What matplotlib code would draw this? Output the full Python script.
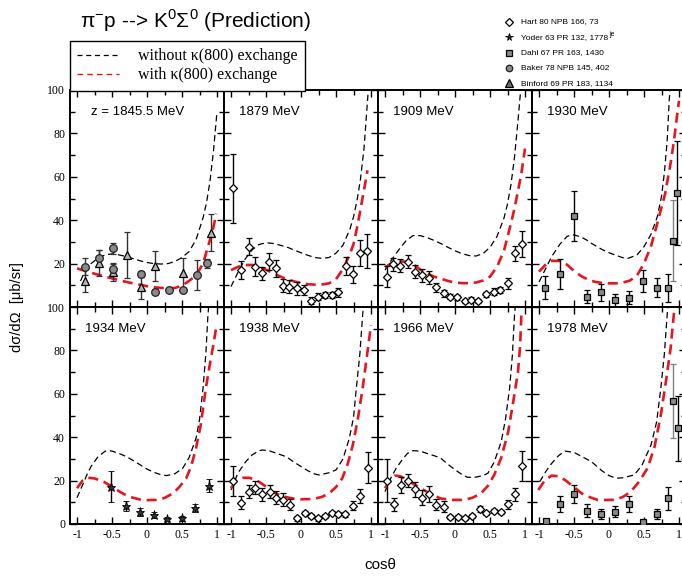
import matplotlib
matplotlib.use('Agg')
import matplotlib.pyplot as plt
from matplotlib.lines import Line2D
from matplotlib.ticker import MultipleLocator

plt.rcParams['font.family'] = ['Liberation Sans', 'DejaVu Sans']
plt.rcParams['axes.unicode_minus'] = False
plt.rcParams['mathtext.fontset'] = 'custom'
plt.rcParams['mathtext.rm'] = 'Liberation Sans'

SERIF = 'Liberation Serif'

# ---- energies shown in the panels ----
panel_labels = ['z = 1845.5 MeV', '1879 MeV', '1909 MeV', '1930 MeV',
                '1934 MeV', '1938 MeV', '1966 MeV', '1978 MeV']

# ---- model curves: without / with kappa(800) exchange ----
wo_c_1845 = [-0.95, -0.9, -0.8, -0.7, -0.6, -0.5, -0.4, -0.3, -0.2, -0.1, 0.0, 0.1, 0.2, 0.3, 0.4, 0.5, 0.6, 0.7, 0.8, 0.85, 0.9, 0.95, 1.0]
wo_v_1845 = [12, 15.5, 20, 22.5, 24, 24.5, 24, 23.3, 22.3, 21.3, 20.5, 20, 19.8, 20, 21, 22.8, 25.5, 31, 41, 48, 58, 72, 90]
w_c_1845 = [-1.0, -0.9, -0.8, -0.7, -0.6, -0.5, -0.4, -0.3, -0.2, -0.1, 0.0, 0.1, 0.2, 0.3, 0.4, 0.5, 0.6, 0.7, 0.8, 0.9, 0.95, 0.99]
w_v_1845 = [17.8, 16.8, 15.8, 14.9, 14.0, 13.2, 12.4, 11.6, 10.9, 10.2, 9.6, 9.1, 8.8, 8.6, 8.8, 9.8, 12, 14.5, 20, 31, 37, 43]

wo_c_1879 = [-1.0, -0.9, -0.8, -0.7, -0.6, -0.5, -0.4, -0.3, -0.2, -0.1, 0.0, 0.1, 0.2, 0.3, 0.4, 0.5, 0.6, 0.7, 0.75, 0.8, 0.85, 0.9, 0.95, 0.97]
wo_v_1879 = [9.4, 16, 22, 26.3, 28.8, 29.6, 29.3, 28.5, 27.6, 26.3, 25, 23.8, 22.8, 22.4, 22.8, 24.8, 28.5, 36, 41.5, 49, 59, 73, 95, 104]
w_c_1879 = [-1.0, -0.9, -0.8, -0.7, -0.6, -0.5, -0.4, -0.3, -0.2, -0.1, 0.0, 0.1, 0.2, 0.3, 0.4, 0.5, 0.6, 0.7, 0.75, 0.8, 0.85, 0.9, 0.95]
w_v_1879 = [17, 18.5, 19.3, 19.4, 18.6, 17.2, 15.6, 14.1, 12.8, 11.8, 11.0, 10.5, 10.3, 10.4, 10.9, 12.8, 17.5, 24.5, 29, 36.5, 45, 54, 63]

wo_c_1909 = [-1.0, -0.9, -0.8, -0.7, -0.6, -0.5, -0.4, -0.3, -0.2, -0.1, 0.0, 0.1, 0.2, 0.3, 0.4, 0.5, 0.6, 0.7, 0.75, 0.8, 0.85, 0.9, 0.93, 0.95]
wo_v_1909 = [17, 22, 26.5, 30.5, 32.9, 32.9, 32, 30.7, 29.2, 27.5, 25.9, 24.6, 23.7, 23.5, 24.6, 27.5, 32.5, 41, 47.5, 56.5, 69, 86, 97, 104]
w_c_1909 = [-1.0, -0.9, -0.8, -0.7, -0.6, -0.5, -0.4, -0.3, -0.2, -0.1, 0.0, 0.1, 0.2, 0.3, 0.4, 0.5, 0.6, 0.7, 0.8, 0.85, 0.9, 0.95, 1.0]
w_v_1909 = [18.3, 20.3, 21, 20.9, 19.8, 17.3, 15.5, 14, 13, 12, 11.3, 11, 11, 11.3, 12.2, 14, 18.5, 26, 38.6, 45.5, 53.5, 62, 73]

wo_c_1930 = [-1.0, -0.9, -0.82, -0.7, -0.6, -0.54, -0.5, -0.4, -0.3, -0.25, -0.1, 0.0, 0.1, 0.2, 0.27, 0.4, 0.5, 0.6, 0.69, 0.75, 0.79, 0.83, 0.86, 0.88]
wo_v_1930 = [11.5, 18, 23.2, 29, 32.5, 33.2, 33.2, 32.3, 30.5, 29.3, 26.5, 25, 23.8, 22.7, 22.4, 24, 27.8, 33.5, 41.6, 51, 61.6, 76, 95, 104]
w_c_1930 = [-1.0, -0.9, -0.82, -0.7, -0.6, -0.5, -0.4, -0.3, -0.2, -0.1, 0.0, 0.1, 0.2, 0.3, 0.4, 0.5, 0.6, 0.69, 0.8, 0.88, 0.93, 0.97, 1.0]
w_v_1930 = [16.3, 19.7, 21.3, 21.2, 19.5, 16.6, 14.3, 12.6, 11.6, 11.1, 10.9, 10.9, 11.3, 12.2, 14.5, 20.1, 28, 38.6, 52, 66.2, 77, 87.7, 95]

wo_c_1934 = [-1.0, -0.9, -0.86, -0.8, -0.7, -0.6, -0.55, -0.5, -0.4, -0.29, -0.2, -0.1, 0.0, 0.1, 0.2, 0.28, 0.4, 0.51, 0.6, 0.7, 0.75, 0.8, 0.84, 0.87, 0.89]
wo_v_1934 = [12.1, 19.5, 22.6, 26.5, 31, 33.5, 33.8, 33.6, 32.5, 31, 29.3, 27.3, 25.3, 23.8, 22.7, 22.3, 23.2, 25.7, 30.5, 39.5, 48, 62.5, 78, 96, 104]
w_c_1934 = [-1.0, -0.92, -0.84, -0.75, -0.62, -0.5, -0.39, -0.3, -0.2, -0.1, 0.0, 0.13, 0.25, 0.37, 0.46, 0.56, 0.63, 0.7, 0.77, 0.84, 0.9, 0.95, 0.99]
w_v_1934 = [16.5, 20, 21.3, 21, 19.5, 17.2, 14.9, 13.3, 12.1, 11.3, 11.0, 11.1, 12.0, 14.1, 17, 21.1, 26.5, 34.9, 46, 62.5, 74, 83, 90.9]

wo_c_1938 = [-1.0, -0.9, -0.79, -0.7, -0.6, -0.55, -0.45, -0.35, -0.21, -0.1, 0.0, 0.1, 0.2, 0.26, 0.4, 0.5, 0.6, 0.69, 0.75, 0.79, 0.84, 0.88, 0.9]
wo_v_1938 = [15.7, 23.5, 28.7, 31.8, 33.8, 34.1, 33.7, 32.6, 31, 28.5, 26.5, 24.5, 23, 22.6, 23.6, 24.9, 30, 39.5, 49, 62.5, 78, 96, 104]
w_c_1938 = [-1.0, -0.92, -0.83, -0.74, -0.64, -0.52, -0.41, -0.3, -0.2, -0.12, 0.0, 0.17, 0.3, 0.4, 0.5, 0.59, 0.67, 0.74, 0.81, 0.88, 0.94, 1.0]
w_v_1938 = [16.5, 20, 21.3, 21.3, 20.3, 17.7, 14.9, 13.2, 12.3, 11.8, 11.4, 11.5, 12.5, 14.1, 17, 21.1, 28, 36.4, 48, 62.5, 77, 91.7]

wo_c_1966 = [-1.0, -0.92, -0.84, -0.75, -0.68, -0.6, -0.5, -0.4, -0.3, -0.21, -0.1, 0.0, 0.1, 0.18, 0.3, 0.4, 0.47, 0.56, 0.66, 0.72, 0.78, 0.82, 0.85, 0.87]
wo_v_1966 = [14.9, 21, 25.7, 29.8, 32.5, 33.8, 33.6, 32.5, 31.5, 30.5, 27.5, 25, 22.8, 21.5, 21.6, 22.3, 23.4, 28.5, 37.9, 48, 62.5, 78, 96, 104]
w_c_1966 = [-1.0, -0.93, -0.86, -0.78, -0.69, -0.57, -0.45, -0.33, -0.21, -0.05, 0.13, 0.25, 0.37, 0.47, 0.56, 0.66, 0.76, 0.83, 0.9, 0.93, 0.95]
w_v_1966 = [16.5, 20.3, 22.3, 22, 20.3, 18, 15.7, 13.6, 11.8, 11.1, 11.1, 12.1, 14.1, 17.6, 22.6, 30.5, 42.5, 56, 70.2, 82, 97.8]

wo_c_1978 = [-0.99, -0.9, -0.82, -0.72, -0.63, -0.5, -0.4, -0.25, -0.1, 0.0, 0.1, 0.2, 0.36, 0.47, 0.6, 0.68, 0.74, 0.79, 0.83, 0.85]
wo_v_1978 = [19.5, 24.3, 27.9, 31.5, 33.6, 33, 31.3, 28.7, 24.5, 22.3, 21.1, 21.3, 22.6, 27, 36.4, 47, 62.5, 78, 96, 104]
w_c_1978 = [-1.01, -0.92, -0.82, -0.72, -0.63, -0.5, -0.39, -0.27, -0.16, 0.08, 0.2, 0.31, 0.43, 0.55, 0.65, 0.74, 0.81, 0.88, 0.93]
w_v_1978 = [15.7, 20, 22.3, 22, 20.3, 17, 14.1, 12.3, 11.1, 11.1, 12.5, 14.9, 19.5, 25.7, 35.5, 50.2, 65, 81, 98]

# ---- measured cross sections (cos theta, dsigma/dOmega, error) ----
baker_c_1845 = [-0.89, -0.68, -0.49, -0.49, -0.09, 0.12, 0.32, 0.51, 0.71, 0.85]
baker_v_1845 = [18.6, 22.7, 27.0, 17.4, 15.2, 7.1, 7.8, 7.8, 14.7, 20.1]
baker_e_1845 = [4.0, 3.6, 2.4, 3.0, 1.5, 1.0, 1.0, 1.0, 7.0, 2.0]

binford_c_1845 = [-0.89, -0.68, -0.49, -0.29, -0.09, 0.12, 0.51, 0.91]
binford_v_1845 = [12.1, 20.1, 16.0, 24.0, 9.4, 18.9, 15.5, 34.2]
binford_e_1845 = [5.3, 6.0, 4.0, 10.6, 5.9, 6.7, 7.3, 8.5]

hart_c_1879 = [-0.97, -0.86, -0.75, -0.66, -0.56, -0.46, -0.36, -0.26, -0.17, -0.06, 0.04, 0.14, 0.24, 0.34, 0.44, 0.53, 0.64, 0.74, 0.84, 0.94]
hart_v_1879 = [54.7, 17.0, 27.8, 18.6, 15.5, 20.9, 17.8, 9.8, 9.4, 8.6, 7.8, 2.9, 4.8, 5.5, 5.5, 6.8, 18.9, 15.0, 25.0, 25.8]
hart_e_1879 = [16.0, 4.0, 4.0, 4.5, 3.0, 4.0, 4.0, 3.0, 3.0, 3.0, 2.5, 1.5, 1.5, 1.5, 1.5, 2.0, 4.0, 4.0, 6.0, 8.0]

hart_c_1909 = [-0.97, -0.88, -0.78, -0.67, -0.57, -0.47, -0.37, -0.27, -0.16, -0.07, 0.03, 0.14, 0.23, 0.33, 0.44, 0.55, 0.64, 0.75, 0.85, 0.95]
hart_v_1909 = [14.0, 19.8, 19.0, 20.9, 16.3, 14.7, 13.5, 9.1, 6.3, 4.8, 4.4, 2.9, 3.4, 2.7, 5.8, 7.1, 7.8, 10.9, 24.7, 28.9]
hart_e_1909 = [5.0, 3.0, 3.0, 3.0, 3.0, 3.0, 3.0, 2.0, 1.5, 1.2, 1.2, 1.0, 1.0, 1.0, 1.2, 1.5, 1.5, 2.5, 3.5, 6.0]

dahl_c_1930 = [-0.91, -0.70, -0.50, -0.31, -0.11, 0.09, 0.29, 0.49, 0.68, 0.84, 0.97]
dahl_v_1930 = [8.9, 15.2, 41.9, 4.8, 6.8, 3.2, 4.3, 12.1, 8.9, 8.9, 52.4]
dahl_e_1930 = [5.2, 7.0, 11.5, 3.0, 4.0, 3.0, 3.0, 5.0, 4.5, 6.5, 24.0]
dahl_fwd_c_1930 = [0.91]
dahl_fwd_v_1930 = [30.6]
dahl_fwd_e_1930 = [18.8]

yoder_c_1934 = [-0.51, -0.30, -0.10, 0.10, 0.29, 0.50, 0.69, 0.89]
yoder_v_1934 = [17.2, 8.3, 5.4, 4.1, 2.3, 2.6, 7.2, 17.6]
yoder_e_1934 = [7.2, 2.5, 1.8, 1.2, 1.0, 1.0, 1.8, 3.0]

hart_c_1938 = [-0.97, -0.86, -0.75, -0.66, -0.56, -0.45, -0.36, -0.26, -0.16, -0.06, 0.05, 0.14, 0.24, 0.34, 0.44, 0.53, 0.63, 0.74, 0.84, 0.95]
hart_v_1938 = [19.8, 9.8, 14.9, 16.7, 13.7, 14.9, 12.1, 11.1, 8.8, 2.6, 5.2, 3.7, 2.6, 3.8, 5.2, 4.6, 4.4, 8.4, 12.9, 26.0]
hart_e_1938 = [7.0, 3.0, 3.0, 3.0, 3.0, 3.0, 3.0, 3.0, 2.5, 1.0, 1.0, 1.0, 1.0, 1.0, 1.0, 1.0, 1.0, 2.0, 3.0, 7.0]

hart_c_1966 = [-0.97, -0.87, -0.77, -0.67, -0.57, -0.47, -0.37, -0.27, -0.16, -0.07, 0.04, 0.14, 0.24, 0.35, 0.44, 0.55, 0.65, 0.76, 0.85, 0.96]
hart_v_1966 = [20.0, 9.2, 18.0, 20.0, 16.0, 12.1, 13.8, 8.8, 8.0, 3.1, 3.1, 2.9, 3.8, 6.8, 5.2, 6.0, 5.5, 9.1, 13.8, 26.7]
hart_e_1966 = [10.0, 3.0, 3.5, 3.0, 3.5, 3.5, 3.5, 2.5, 2.5, 1.0, 1.0, 1.0, 1.0, 1.5, 1.0, 1.0, 1.0, 2.0, 3.0, 7.0]

dahl_c_1978 = [-0.90, -0.70, -0.50, -0.31, -0.11, 0.09, 0.29, 0.49, 0.68, 0.84, 0.98]
dahl_v_1978 = [1.4, 9.2, 13.8, 6.0, 4.6, 5.7, 9.2, 0.8, 4.6, 11.8, 44.1]
dahl_e_1978 = [1.0, 3.5, 4.0, 3.0, 2.5, 2.5, 3.5, 0.5, 2.5, 5.4, 15.0]
dahl_fwd_c_1978 = [0.92]
dahl_fwd_v_1978 = [56.8]
dahl_fwd_e_1978 = [17.0]

# marker styles of the five experiments
STYLE = {
    'hart':    dict(marker='D', ms=4.5, mfc='white', mec='black', mew=0.9),
    'yoder':   dict(marker='*', ms=6.5, mfc='#333333', mec='black', mew=0.6),
    'dahl':    dict(marker='s', ms=5, mfc='#8a8a8a', mec='black', mew=0.9),
    'baker':   dict(marker='o', ms=5.5, mfc='#8a8a8a', mec='#222222', mew=0.9),
    'binford': dict(marker='^', ms=6, mfc='#b4b4b4', mec='black', mew=0.9),
}

curves = [
    (wo_c_1845, wo_v_1845, w_c_1845, w_v_1845),
    (wo_c_1879, wo_v_1879, w_c_1879, w_v_1879),
    (wo_c_1909, wo_v_1909, w_c_1909, w_v_1909),
    (wo_c_1930, wo_v_1930, w_c_1930, w_v_1930),
    (wo_c_1934, wo_v_1934, w_c_1934, w_v_1934),
    (wo_c_1938, wo_v_1938, w_c_1938, w_v_1938),
    (wo_c_1966, wo_v_1966, w_c_1966, w_v_1966),
    (wo_c_1978, wo_v_1978, w_c_1978, w_v_1978),
]

points = [
    [('binford', binford_c_1845, binford_v_1845, binford_e_1845, '#333333'),
     ('baker', baker_c_1845, baker_v_1845, baker_e_1845, '#333333')],
    [('hart', hart_c_1879, hart_v_1879, hart_e_1879, 'black')],
    [('hart', hart_c_1909, hart_v_1909, hart_e_1909, 'black')],
    [('dahl', dahl_fwd_c_1930, dahl_fwd_v_1930, dahl_fwd_e_1930, '#808080'),
     ('dahl', dahl_c_1930, dahl_v_1930, dahl_e_1930, 'black')],
    [('yoder', yoder_c_1934, yoder_v_1934, yoder_e_1934, 'black')],
    [('hart', hart_c_1938, hart_v_1938, hart_e_1938, 'black')],
    [('hart', hart_c_1966, hart_v_1966, hart_e_1966, 'black')],
    [('dahl', dahl_fwd_c_1978, dahl_fwd_v_1978, dahl_fwd_e_1978, '#808080'),
     ('dahl', dahl_c_1978, dahl_v_1978, dahl_e_1978, 'black')],
]

W, H = 682, 576
fig = plt.figure(figsize=(W / 100, H / 100), dpi=100)

# panel geometry in pixels
x_left, panel_w = 70, 154
row_bottom = [307, 524]
panel_h = 217

for i in range(8):
    row, col = divmod(i, 4)
    ax = fig.add_axes([(x_left + col * panel_w) / W, (H - row_bottom[row]) / H,
                       panel_w / W, panel_h / H])
    wo_c, wo_v, w_c, w_v = curves[i]
    ax.plot(wo_c, wo_v, color='black', lw=0.9, dashes=(5, 3))
    ax.plot(w_c, w_v, color='#e8141e', lw=1.9, dashes=(3.8, 2.2))
    for name, c, v, e, ecol in points[i]:
        ax.errorbar(c, v, yerr=e, ls='none', ecolor=ecol, elinewidth=1.0,
                    capsize=2.5, capthick=1.0, zorder=3, **STYLE[name])

    ax.set_xlim(-1.1, 1.1)
    ax.set_ylim(0, 100)
    ax.xaxis.set_major_locator(MultipleLocator(0.5))
    ax.xaxis.set_minor_locator(MultipleLocator(0.25))
    ax.yaxis.set_major_locator(MultipleLocator(20))
    ax.yaxis.set_minor_locator(MultipleLocator(10))
    ax.tick_params(which='both', direction='in', top=True, right=True,
                   labelsize=8.5, labelfontfamily=SERIF, width=1.0)
    ax.tick_params(which='major', length=5)
    ax.tick_params(which='minor', length=3.5)
    for sp in ax.spines.values():
        sp.set_linewidth(1.4)

    if col == 0:
        ax.set_yticks([0, 20, 40, 60, 80, 100])
        if row == 0:
            ax.set_yticklabels(['', '20', '40', '60', '80', '100'])
    else:
        ax.tick_params(labelleft=False)
    if row == 1:
        ax.set_xticks([-1, -0.5, 0, 0.5, 1])
        ax.set_xticklabels(['-1', '-0.5', '0', '0.5', '1'])
    else:
        ax.tick_params(labelbottom=False)

    tx = 0.135 if i == 0 else 0.1
    ax.text(tx, 0.9, panel_labels[i], transform=ax.transAxes, fontsize=9.5,
            va='center', ha='left')

# title and axis labels
fig.text(80 / W, 1 - 21 / H, r'π$^{-}$p --> K$^{0}$Σ$^{0}$ (Prediction)',
         fontsize=15, ha='left', va='center')
fig.text(17 / W, 1 - 307 / H, 'dσ/dΩ  [μb/sr]', rotation=90, fontsize=10.5,
         ha='center', va='center')
fig.text(380 / W, 1 - 565 / H, 'cosθ', fontsize=11, ha='center', va='center')

# model legend
model_handles = [Line2D([], [], color='black', lw=0.9, dashes=(4, 3)),
                 Line2D([], [], color='#e8141e', lw=1.0, dashes=(4, 3))]
leg = fig.legend(model_handles, ['without κ(800) exchange', 'with κ(800) exchange'],
                 loc='upper left', bbox_to_anchor=(70 / W, 1 - 41 / H),
                 prop={'family': SERIF, 'size': 11.5}, frameon=True,
                 fancybox=False, edgecolor='black', framealpha=1,
                 handlelength=2.6, handletextpad=1.2, borderpad=0.45,
                 labelspacing=0.2, borderaxespad=0)
leg.get_frame().set_linewidth(1.0)
leg.set_zorder(10)

# experiment key
refs = [('hart', 'Hart 80 NPB 166, 73'),
        ('yoder', 'Yoder 63 PR 132, 1778'),
        ('dahl', 'Dahl 67 PR 163, 1430'),
        ('baker', 'Baker 78 NPB 145, 402'),
        ('binford', 'Binford 69 PR 183, 1134')]
for k, (name, label) in enumerate(refs):
    y = 1 - (22 + 15.3 * k) / H
    st = dict(STYLE[name])
    st['ms'] = st['ms'] * 0.85
    if name == 'binford':
        st['mfc'] = '#6e6e6e'
    fig.add_artist(Line2D([509 / W], [y], transform=fig.transFigure, ls='none', **st))
    txt = fig.text(521 / W, y, label, fontsize=6, ha='left', va='center')
    if name == 'yoder':
        yoder_txt = txt

# small raised suffix after the Yoder reference
fig.canvas.draw()
bb = yoder_txt.get_window_extent()
fig.text((bb.x1 + 1.5) / W, (bb.y1 - 1) / H, 'je', fontsize=5, ha='left', va='center')

fig.savefig('out.png', dpi=100)
